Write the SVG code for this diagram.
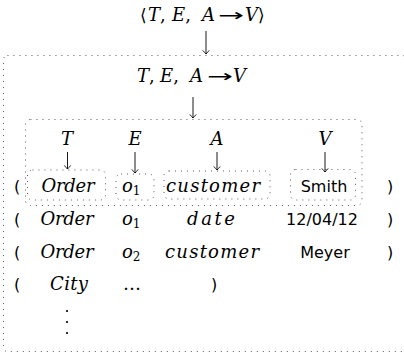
<svg xmlns="http://www.w3.org/2000/svg" width="404" height="356" viewBox="0 0 404 356">
<style>
  text { font-family: "DejaVu Serif", "DejaVu Sans", serif; font-size: 18px; fill: #000; }
  .mi { font-style: italic; }
  .sym { font-family: "DejaVu Sans", sans-serif; font-size: 17px; font-style: normal; }
  .sf { font-family: "DejaVu Sans", sans-serif; font-size: 16px; font-style: normal; }
  .sub { font-size: 12px; font-style: normal; }
  .mid { text-anchor: middle; }
  .dotbox { fill: none; stroke: #333; stroke-width: 0.9; stroke-dasharray: 0.9 5.1; stroke-linecap: butt; }
  .arr { fill: none; stroke: #000; stroke-width: 0.9; marker-end: url(#ah); }
</style>
<defs>
  <marker id="ah" markerUnits="userSpaceOnUse" viewBox="-5 -5 10 10" refX="0" refY="0" markerWidth="10" markerHeight="10" orient="auto">
    <path d="M-3.6,-3.2 Q-0.8,-0.9 0,0 Q-0.8,0.9 -3.6,3.2" fill="none" stroke="#000" stroke-width="0.85"/>
  </marker>
</defs>

<g id="title">
  <text y="21"><tspan x="140" class="sym">⟨</tspan><tspan x="148" class="mi">T</tspan><tspan>,</tspan><tspan x="172" class="mi">E</tspan><tspan>,</tspan><tspan x="202" class="mi">A</tspan><tspan x="218" class="sym" textLength="26" lengthAdjust="spacingAndGlyphs">→</tspan><tspan x="245" class="mi">V</tspan><tspan class="sym">⟩</tspan></text>
</g>

<g id="outer-box">
  <rect class="dotbox" x="3.5" y="55.5" width="403" height="296" rx="4"/>
  <text y="82"><tspan x="137" class="mi">T</tspan><tspan>,</tspan><tspan x="160" class="mi">E</tspan><tspan>,</tspan><tspan x="190" class="mi">A</tspan><tspan x="207" class="sym" textLength="26" lengthAdjust="spacingAndGlyphs">→</tspan><tspan x="233" class="mi">V</tspan></text>
</g>

<g id="inner-box">
  <rect class="dotbox" x="25.5" y="119.5" width="336.5" height="86" rx="5"/>
  <text class="mi mid" x="67" y="145">T</text>
  <text class="mi mid" x="135" y="145">E</text>
  <text class="mi mid" x="217" y="145">A</text>
  <text class="mi mid" x="325" y="145">V</text>
</g>

<g id="box-order">
  <rect class="dotbox" x="27.5" y="170" width="78" height="30" rx="5"/>
  <text class="mi mid" x="68" y="192" textLength="53" lengthAdjust="spacing">Order</text>
</g>
<g id="box-o1">
  <rect class="dotbox" x="116" y="174" width="38" height="26" rx="5"/>
  <text class="mi" x="122" y="192">o<tspan class="sub" dy="3">1</tspan></text>
</g>
<g id="box-customer">
  <rect class="dotbox" x="164" y="171" width="106" height="28" rx="5"/>
  <text class="mi mid" x="213" y="192" textLength="94" lengthAdjust="spacing">customer</text>
</g>
<g id="box-smith">
  <rect class="dotbox" x="290.5" y="169.5" width="65" height="30.5" rx="5"/>
  <text class="sf mid" x="324" y="192">Smith</text>
</g>

<g id="rows">
  <text class="sf" x="14" y="192">(</text>
  <text class="sf" x="387" y="192">)</text>

  <text class="sf" x="14" y="225">(</text>
  <text class="mi mid" x="67" y="225" textLength="53" lengthAdjust="spacing">Order</text>
  <text class="mi" x="122" y="225">o<tspan class="sub" dy="3">1</tspan></text>
  <text class="mi mid" x="211" y="225" textLength="48" lengthAdjust="spacing">date</text>
  <text class="sf mid" x="322" y="225">12/04/12</text>
  <text class="sf" x="387" y="225">)</text>

  <text class="sf" x="14" y="258">(</text>
  <text class="mi mid" x="67" y="258" textLength="53" lengthAdjust="spacing">Order</text>
  <text class="mi" x="122" y="258">o<tspan class="sub" dy="3">2</tspan></text>
  <text class="mi mid" x="212" y="258" textLength="94" lengthAdjust="spacing">customer</text>
  <text class="sf mid" x="325" y="258">Meyer</text>
  <text class="sf" x="387" y="258">)</text>

  <text class="sf" x="14" y="290">(</text>
  <text class="mi mid" x="69" y="290" textLength="38" lengthAdjust="spacing">City</text>
  <text class="mid" x="132" y="290" textLength="21" lengthAdjust="spacing">…</text>
  <text class="sf" x="211" y="290">)</text>

  <circle cx="67" cy="311" r="1.1"/>
  <circle cx="67" cy="322" r="1.1"/>
  <circle cx="67" cy="333" r="1.1"/>
</g>

<g id="connectors">
  <line class="arr" x1="206" y1="31" x2="206" y2="54"/>
  <line class="arr" x1="193" y1="97" x2="193" y2="118"/>
  <line class="arr" x1="67.5" y1="152" x2="67.5" y2="169"/>
  <line class="arr" x1="135" y1="152" x2="135" y2="173"/>
  <line class="arr" x1="217" y1="152" x2="217" y2="170"/>
  <line class="arr" x1="325" y1="152" x2="325" y2="172"/>
</g>
</svg>
